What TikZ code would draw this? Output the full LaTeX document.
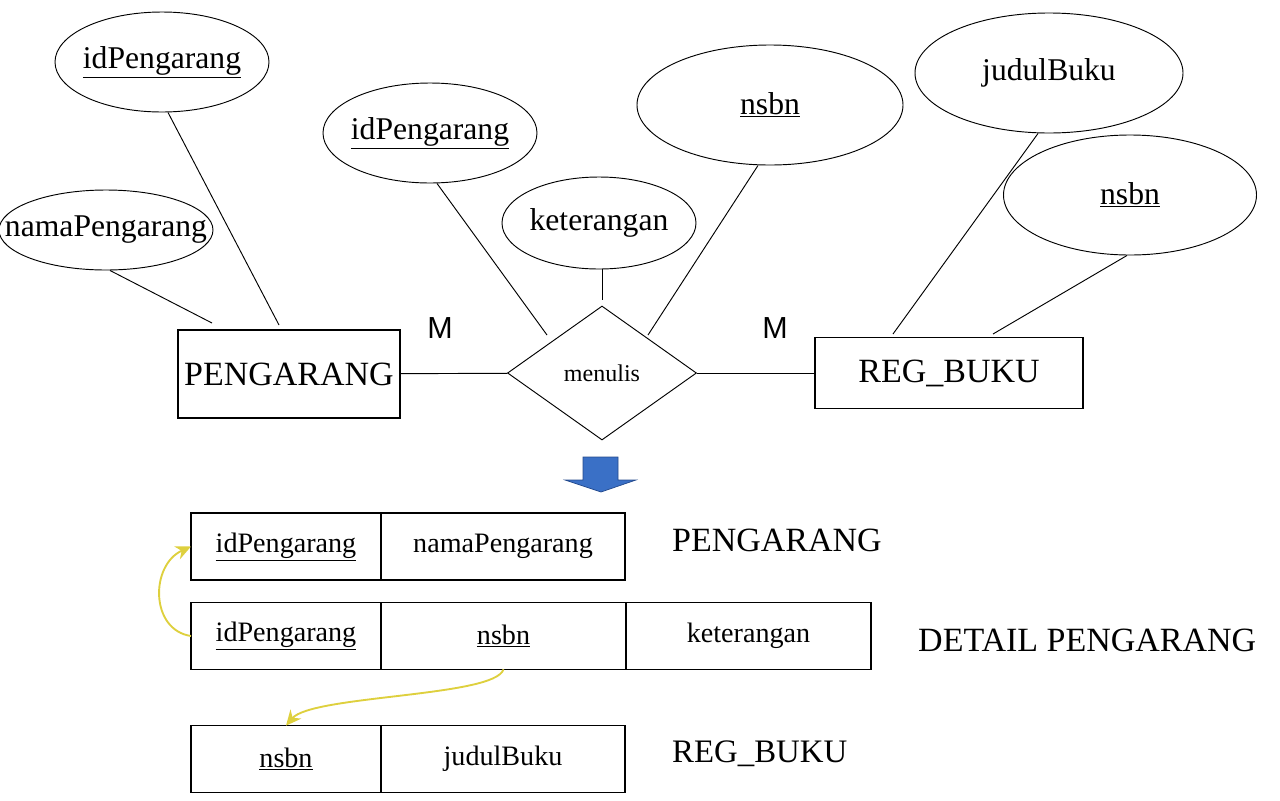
\documentclass[tikz,border=0pt]{standalone}
\usepackage{fontspec}
\setmainfont{Liberation Serif}
\newfontfamily\cardfont{Liberation Sans}
\usetikzlibrary{positioning,shapes.geometric,arrows.meta}

\definecolor{fkyellow}{RGB}{222,208,62}
\definecolor{downblue}{RGB}{58,112,198}
\definecolor{downedge}{RGB}{36,74,140}

\newcommand{\attrtext}[1]{\makebox[0pt]{#1}}

\begin{document}
\begin{tikzpicture}[
    x=0.03cm, y=-0.03cm,
    entity/.style={
        draw=black,
        line width=0.9pt,
        inner sep=0pt,
        font=\fontsize{29}{32}\selectfont
    },
    attr/.style={
        draw=black,
        ellipse,
        line width=0.8pt,
        inner sep=0pt,
        font=\fontsize{27}{30}\selectfont
    },
    rel/.style={
        draw=black,
        diamond,
        line width=0.8pt,
        inner sep=0pt,
        minimum width=5.67cm,
        minimum height=4.02cm,
        font=\fontsize{20.5}{24}\selectfont
    },
    cell/.style={
        draw=black,
        line width=1.2pt,
        inner sep=0pt,
        outer sep=0pt,
        minimum width=5.7cm,
        minimum height=2.0cm,
        font=\fontsize{24}{28}\selectfont
    },
    tlabel/.style={anchor=west, inner sep=0pt, font=\fontsize{29}{32}\selectfont},
    card/.style={font=\cardfont\fontsize{26}{30}\selectfont},
    link/.style={line width=0.8pt},
    fk/.style={-{Stealth[length=13pt,width=12pt]}, fkyellow, line width=1.6pt}
]
\useasboundingbox (0,0) rectangle (1280,800);

% entities and relation
\node[entity, minimum width=6.66cm, minimum height=2.64cm] (pengarang) at (289,374) {PENGARANG};
\node[rel] (menulis) at (602,373) {menulis};
\node[entity, minimum width=8.04cm, minimum height=2.13cm] (regbuku) at (949,373) {REG\_BUKU};

\draw[link] (pengarang) -- (menulis);
\draw[link] (menulis) -- (regbuku);

\node[card] (m1) at (440,328) {M};
\node[card] (m2) at (775,328) {M};

% attributes
\node[attr, minimum width=6.42cm, minimum height=3.0cm] (idpeng) at (162,62) {\attrtext{\underline{idPengarang}}};
\node[attr, minimum width=6.42cm, minimum height=2.4cm] (namapeng) at (106,230) {\attrtext{namaPengarang}};
\node[attr, minimum width=6.42cm, minimum height=3.0cm] (idpengrel) at (430,133) {\attrtext{\underline{idPengarang}}};
\node[attr, minimum width=5.82cm, minimum height=2.76cm] (ket) at (599,223) {\attrtext{keterangan}};
\node[attr, minimum width=7.98cm, minimum height=3.6cm] (nsbnrel) at (770,105) {\attrtext{\underline{nsbn}}};
\node[attr, minimum width=8.04cm, minimum height=3.6cm] (judul) at (1049,73) {\attrtext{judulBuku}};
\node[attr, minimum width=7.59cm, minimum height=3.6cm] (nsbn) at (1130,195) {\attrtext{\underline{nsbn}}};

\coordinate (idpengend) at (279,325);
\coordinate (namapengend) at (212,323);
\coordinate (idpengrelend) at (547,335);
\coordinate (ketend) at (602,300);
\coordinate (nsbnrelend) at (648,335);
\coordinate (judulend) at (893,334);
\coordinate (nsbnend) at (993,334);

\draw[link] (idpeng.south) ++(6,0) -- (idpengend);
\draw[link] (namapeng.south) ++(4,0) -- (namapengend);
\draw[link] (idpengrel.south) ++(7,0) -- (idpengrelend);
\draw[link] (ket.south) ++(3,0) -- (ketend);
\draw[link] (nsbnrel.south) ++(-12,0) -- (nsbnrelend);
\draw[link] (judul.south) ++(-11,0) -- (judulend);
\draw[link] (nsbn.south) ++(-3,0) -- (nsbnend);

% mapping arrow
\draw[downedge, fill=downblue, line width=0.6pt]
    (583,457) -- (618,457) -- (618,480) -- (636,480) -- (601,492)
    -- (565,480) -- (583,480) -- cycle;

% first row
\node[cell, minimum width=5.7cm] (r1a) at (286,546.5) {\underline{idPengarang}};
\node[cell, minimum width=7.32cm, right=0pt of r1a] (r1b) {namaPengarang};
\node[tlabel] (t1) at (672,540) {PENGARANG};

% second row
\node[cell, minimum width=5.7cm] (r2a) at (286,636) {\underline{idPengarang}};
\node[cell, minimum width=7.35cm, right=0pt of r2a] (r2b) {\underline{nsbn}};
\node[cell, minimum width=7.35cm, right=0pt of r2b] (r2c) {keterangan};
\node[tlabel] (t2) at (918,640) {DETAIL PENGARANG};

% third row
\node[cell, minimum width=5.7cm] (r3a) at (286,759) {\underline{nsbn}};
\node[cell, minimum width=7.32cm, right=0pt of r3a] (r3b) {judulBuku};
\node[tlabel, font=\fontsize{28}{32}\selectfont] (t3) at (672,754) {REG\_BUKU};

% foreign keys
\draw[fk] (r2a.west) .. controls (150,630) and (150,565) .. (r1a.west);
\draw[fk] (r2b.south) .. controls (495,697) and (312,695) .. (r3a.north);

\end{tikzpicture}
\end{document}
